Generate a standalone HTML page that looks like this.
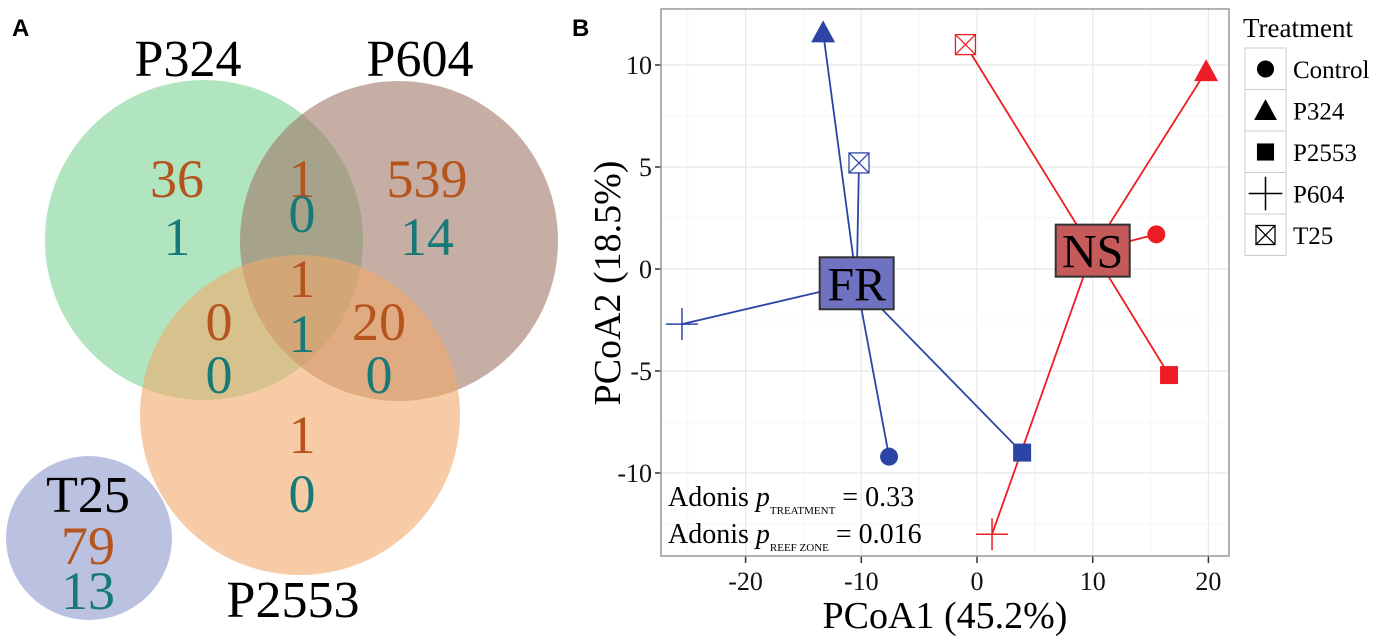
<!DOCTYPE html>
<html><head><meta charset="utf-8">
<style>
html,body{margin:0;padding:0;background:#fff;}
svg{display:block;font-family:"Liberation Serif",serif;}
</style></head>
<body>
<svg id="fig" width="1386" height="641" viewBox="0 0 1386 641">
  <g>
    <text x="12" y="36" font-family="Liberation Sans" font-weight="bold" font-size="24">A</text>
    <ellipse cx="204" cy="240" rx="159" ry="160" fill="#6fcf8c" fill-opacity="0.55"/>
    <ellipse cx="399" cy="241" rx="159" ry="160" fill="#9e7462" fill-opacity="0.58"/>
    <ellipse cx="300" cy="415" rx="160" ry="160" fill="#f2a86b" fill-opacity="0.6"/>
    <ellipse cx="89" cy="538" rx="83" ry="82" fill="#8e98cc" fill-opacity="0.6"/>
    <g font-size="52" text-anchor="middle">
      <text x="188" y="76">P324</text>
      <text x="420" y="76">P604</text>
      <text x="293" y="617">P2553</text>
      <text x="88" y="512">T25</text>
    </g>
    <g font-size="54" text-anchor="middle" fill="#b5541d">
      <text x="177" y="197">36</text>
      <text x="302" y="197">1</text>
      <text x="427" y="197">539</text>
      <text x="302" y="297">1</text>
      <text x="219" y="340">0</text>
      <text x="379" y="340">20</text>
      <text x="302" y="453">1</text>
      <text x="88" y="564">79</text>
    </g>
    <g font-size="54" text-anchor="middle" fill="#187a78">
      <text x="177" y="255">1</text>
      <text x="302" y="232">0</text>
      <text x="427" y="255">14</text>
      <text x="302" y="352">1</text>
      <text x="219" y="393">0</text>
      <text x="379" y="393">0</text>
      <text x="302" y="512">0</text>
      <text x="88" y="609">13</text>
    </g>
  </g>
  <text x="572" y="36" font-family="Liberation Sans" font-weight="bold" font-size="24">B</text>
  <g id="plot"></g>
</svg>
<script>
const groups = ["FR","NS"];
const treatments = ["Control","P324","P2553","P604","T25"];
const frX = [-7.6, -13.3, 3.9, -25.5, -10.2];
const frY = [-9.2, 11.6, -9.0, -2.7, 5.2];
const nsX = [15.5, 19.8, 16.6, 1.3, -1.0];
const nsY = [1.7, 9.7, -5.2, -13.0, 11.0];
const centroidX = [-10.4, 10.0];
const centroidY = [-0.7, 0.9];
const xTicks = [-20,-10,0,10,20];
const yTicks = [-10,-5,0,5,10];

const NS = "http://www.w3.org/2000/svg";
const plot = document.getElementById('plot');
const L=661, R=1229, T=9, B=556;
const sx = v => 977 + v*11.57;
const sy = v => 269 - v*20.4;
function el(tag, attrs, parent){
  const e=document.createElementNS(NS,tag);
  for(const k in attrs) e.setAttribute(k,attrs[k]);
  (parent||plot).appendChild(e); return e;
}
const bg=el('rect',{x:L,y:T,width:R-L,height:B-T,fill:'#fff'});


for(let i=0;i<xTicks.length;i++){
  [xTicks[i]-5, xTicks[i]+5].forEach(m=>{
    const px=sx(m);
    if(px<=L||px>=R) return;
    const g1=el('line',{x1:px,x2:px,y1:T,y2:B,stroke:'#f5f5f5','stroke-width':1});
    
    
  });
  const g=el('line',{x1:sx(xTicks[i]),x2:sx(xTicks[i]),y1:T,y2:B,stroke:'#e8e8e8','stroke-width':1.2});
  
  
  const t=el('text',{x:sx(xTicks[i]),y:590,'font-size':26,'text-anchor':'middle',fill:'#111'});
  t.textContent=xTicks[i];
  
  
  const tk=el('line',{x1:sx(xTicks[i]),x2:sx(xTicks[i]),y1:B,y2:B+7,stroke:'#333','stroke-width':1.5});
  
  
}
for(let i=0;i<yTicks.length;i++){
  [yTicks[i]-2.5, yTicks[i]+2.5].forEach(m=>{
    const py=sy(m);
    if(py<=T||py>=B) return;
    const gm=el('line',{x1:L,x2:R,y1:py,y2:py,stroke:'#f5f5f5'});
    
    
  });
  const g=el('line',{x1:L,x2:R,y1:sy(yTicks[i]),y2:sy(yTicks[i]),stroke:'#e8e8e8','stroke-width':1.2});
  
  
  const t=el('text',{x:L-9,y:sy(yTicks[i])+9,'font-size':26,'text-anchor':'end',fill:'#111'});
  t.textContent=yTicks[i];
  
  
  const tk=el('line',{x1:L-6,x2:L,y1:sy(yTicks[i]),y2:sy(yTicks[i]),stroke:'#333','stroke-width':1.5});
  
  
}
const border=el('rect',{x:L,y:T,width:R-L,height:B-T,fill:'none',stroke:'#999','stroke-width':1.5});



function marker(kind,x,y,color,parent,size){
  const s=size||1; const g=el('g',{},parent);
  if(kind===0) el('circle',{cx:x,cy:y,r:9*s,fill:color},g);
  else if(kind===1) el('polygon',{points:`${x},${y-12*s} ${x-12*s},${y+10*s} ${x+12*s},${y+10*s}`,fill:color},g);
  else if(kind===2) el('rect',{x:x-9*s,y:y-9*s,width:18*s,height:18*s,fill:color},g);
  else if(kind===3){el('line',{x1:x-16*s,x2:x+16*s,y1:y,y2:y,stroke:color,'stroke-width':1.5},g);el('line',{x1:x,x2:x,y1:y-16*s,y2:y+16*s,stroke:color,'stroke-width':1.5},g);}
  else {el('rect',{x:x-10*s,y:y-10*s,width:20*s,height:20*s,fill:'#fff',stroke:color,'stroke-width':1.3},g);
    el('path',{d:`M${x-10*s},${y-10*s}L${x+10*s},${y+10*s}M${x+10*s},${y-10*s}L${x-10*s},${y+10*s}`,stroke:color,'stroke-width':1.3},g);}
  return g;
}
const colors=['#2b44a6','#ee1c24'];
const fills=['#6f72c0','#c45a5a'];
const xs=[frX,nsX], ys=[frY,nsY];
for(let gi=0;gi<2;gi++){
  const cx=sx(centroidX[gi]), cy=sy(centroidY[gi]);
  for(let i=0;i<treatments.length;i++){
    const ln=el('line',{x1:cx,y1:cy,x2:sx(xs[gi][i]),y2:sy(ys[gi][i]),stroke:colors[gi],'stroke-width':1.8});
    
    
  }
}
for(let gi=0;gi<2;gi++){
  for(let i=0;i<treatments.length;i++){
    const m=marker(i,sx(xs[gi][i]),sy(ys[gi][i]),colors[gi]);
    
    
  }
}
for(let gi=0;gi<2;gi++){
  const cx=sx(centroidX[gi]), cy=sy(centroidY[gi]);
  const g=el('g',{});
  
  
  el('rect',{x:cx-37,y:cy-26,width:74,height:52,fill:fills[gi],stroke:'#333','stroke-width':2},g);
  const t=el('text',{x:cx,y:cy+17,'font-size':48,'text-anchor':'middle',fill:'#000'},g);
  t.textContent=groups[gi];
}
const a1=el('text',{x:668,y:506,'font-size':28});
a1.innerHTML='Adonis <tspan font-style="italic">p</tspan><tspan font-size="11" dy="8">TREATMENT</tspan><tspan dy="-8"> = 0.33</tspan>';


const a2=el('text',{x:668,y:543,'font-size':28});
a2.innerHTML='Adonis <tspan font-style="italic">p</tspan><tspan font-size="11" dy="8">REEF ZONE</tspan><tspan dy="-8"> = 0.016</tspan>';


const xt=el('text',{x:945,y:628,'font-size':38,'text-anchor':'middle'});
xt.textContent='PCoA1 (45.2%)';


const yt=el('text',{x:0,y:0,'font-size':38,'text-anchor':'middle',transform:'translate(620,283) rotate(-90)'});
yt.textContent='PCoA2 (18.5%)';


const lg=el('g',{});


const lt=el('text',{x:1243,y:37,'font-size':27},lg);
lt.textContent='Treatment';


for(let i=0;i<treatments.length;i++){
  const y0=48+i*41.5;
  const ge=el('g',{},lg);
  
  
  el('rect',{x:1245,y:y0,width:41,height:41.5,fill:'#fff',stroke:'#ccc','stroke-width':1},ge);
  marker(i,1265.5,y0+21,'#000',ge,i===3?1.05:0.95);
  const t=el('text',{x:1293,y:y0+30,'font-size':25},ge);
  t.textContent=treatments[i];
}
</script>
</body></html>
